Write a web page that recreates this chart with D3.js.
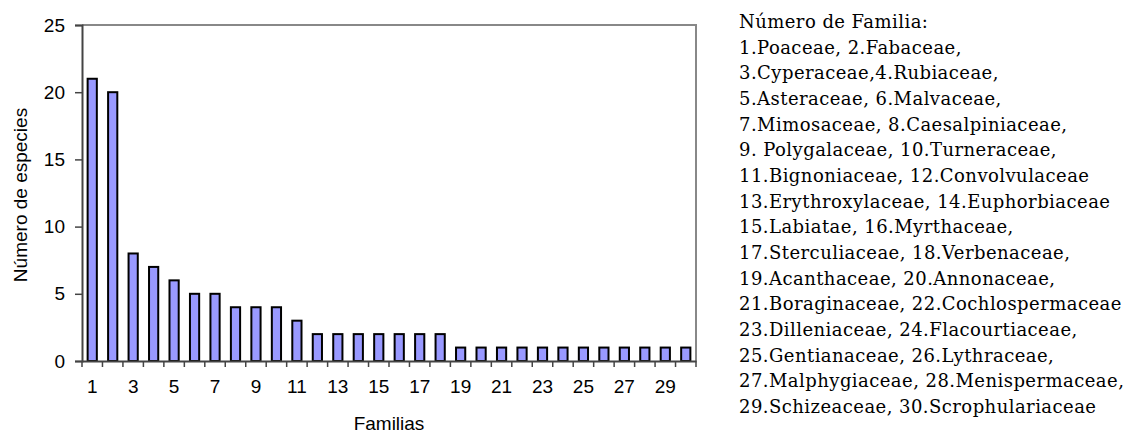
<!DOCTYPE html>
<html><head><meta charset="utf-8">
<script src="https://cdn.jsdelivr.net/npm/d3@7"></script>
<style>body{margin:0;background:#fff}svg{display:block}</style>
</head><body>
<svg id="c" width="1127" height="435"></svg>
<script>
const familias = d3.range(1, 31).map(String);
const especies = [21,20,8,7,6,5,5,4,4,4,3,2,2,2,2,2,2,2,1,1,1,1,1,1,1,1,1,1,1,1];
const yTicks = [0,5,10,15,20,25];
const xTickLabels = ["1","3","5","7","9","11","13","15","17","19","21","23","25","27","29"];
const legendTitle = "Número de Familia:";
const legendLines = [
  "1.Poaceae, 2.Fabaceae,",
  "3.Cyperaceae,4.Rubiaceae,",
  "5.Asteraceae, 6.Malvaceae,",
  "7.Mimosaceae, 8.Caesalpiniaceae,",
  "9. Polygalaceae, 10.Turneraceae,",
  "11.Bignoniaceae, 12.Convolvulaceae",
  "13.Erythroxylaceae, 14.Euphorbiaceae",
  "15.Labiatae, 16.Myrthaceae,",
  "17.Sterculiaceae, 18.Verbenaceae,",
  "19.Acanthaceae, 20.Annonaceae,",
  "21.Boraginaceae, 22.Cochlospermaceae",
  "23.Dilleniaceae, 24.Flacourtiaceae,",
  "25.Gentianaceae, 26.Lythraceae,",
  "27.Malphygiaceae, 28.Menispermaceae,",
  "29.Schizeaceae, 30.Scrophulariaceae"
];

const svg = d3.select("#c");
const L = 82, R = 696, T = 25, B = 361;
const sans = "Liberation Sans, Arial, sans-serif";
const fs = 19;

const xSlot = d3.scaleBand().domain(familias).range([L, R]).padding(0);
const xBar = d3.scaleBand().domain(familias).range([L, R]).paddingInner(0.55).paddingOuter(0.275);
const y = d3.scaleLinear().domain([0, 25]).range([B, T]);

// frame (top & right, gray)
svg.append("path")
  .attr("d", `M${L},${T}H${R}V${B}`)
  .attr("fill", "none").attr("stroke", "#888").attr("stroke-width", 2);

// bars
svg.append("g").selectAll("rect").data(especies).join("rect")
  .attr("x", (d, i) => xBar(familias[i]))
  .attr("y", d => y(d))
  .attr("width", xBar.bandwidth())
  .attr("height", d => B - y(d))
  .attr("fill", "#9999FF").attr("stroke", "#000").attr("stroke-width", 2);

// y axis
const yAxis = svg.append("g").attr("transform", `translate(${L},0)`)
  .call(d3.axisLeft(y).tickValues(yTicks).tickSize(7).tickPadding(10));
yAxis.select(".domain").attr("stroke", "#444").attr("stroke-width", 2);
yAxis.selectAll(".tick line").attr("stroke", "#444").attr("stroke-width", 1.5);
yAxis.selectAll("text").attr("font-family", sans).attr("font-size", fs).attr("fill", "#000");

// x axis
const xAxis = svg.append("g").attr("transform", `translate(0,${B})`)
  .call(d3.axisBottom(xSlot).tickValues(xTickLabels).tickSize(0).tickPadding(19));
xAxis.select(".domain").attr("stroke", "#444").attr("stroke-width", 2);
xAxis.selectAll("text").attr("font-family", sans).attr("font-size", fs).attr("fill", "#000");
// boundary ticks
const bounds = familias.map(f => xSlot(f)).concat([R]);
xAxis.append("g").selectAll("line").data(bounds).join("line")
  .attr("x1", d => d).attr("x2", d => d).attr("y1", 0).attr("y2", 6)
  .attr("stroke", "#444").attr("stroke-width", 1.5);

// axis titles
svg.append("text").attr("x", (L + R) / 2).attr("y", 430)
  .attr("text-anchor", "middle")
  .attr("font-family", sans).attr("font-size", fs)
  .text("Familias");
svg.append("text")
  .attr("transform", `translate(27,${(T + B) / 2 + 2}) rotate(-90)`)
  .attr("text-anchor", "middle")
  .attr("font-family", sans).attr("font-size", fs)
  .text("Número de especies");

// legend text
const lg = svg.append("g").attr("font-family", "DejaVu Serif, serif").attr("font-size", 18)
  .attr("letter-spacing", 0.45).attr("fill", "#000");
[legendTitle].concat(legendLines).forEach((t, i) => {
  lg.append("text").attr("x", 739).attr("y", 28 + i * 25.67).text(t);
});
</script>
</body></html>
